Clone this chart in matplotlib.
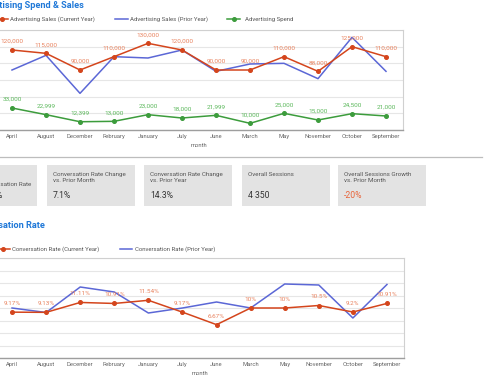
import numpy as np
import matplotlib
matplotlib.use("Agg")
from matplotlib import pyplot as plt
from matplotlib.patches import Rectangle

plt.rcParams['font.family'] = ['Roboto', 'DejaVu Sans']

W, H = 490, 385

months = ["April", "August", "December", "February", "January", "July",
          "June", "March", "May", "November", "October", "September"]

sales_current = [120000, 115000, 90000, 110000, 130000, 120000,
                 90000, 90000, 110000, 88000, 125000, 110000]
sales_prior = [90000, 112000, 55000, 110000, 108000, 120000,
               88000, 99000, 100000, 77000, 139000, 88000]
ad_spend = [33000, 22999, 12399, 13000, 23000, 18000,
            21999, 10000, 25000, 15000, 24500, 21000]

conv_current = [9.17, 9.13, 11.11, 10.91, 11.54, 9.17,
                6.67, 10.0, 10.0, 10.5, 9.2, 10.91]
conv_prior = [10.0, 9.1, 14.2, 13.2, 9.0, 10.0,
              11.2, 10.0, 14.8, 14.6, 8.0, 14.7]

card_labels = ["Conversation Rate",
               "Conversation Rate Change\nvs. Prior Month",
               "Conversation Rate Change\nvs. Prior Year",
               "Overall Sessions",
               "Overall Sessions Growth\nvs. Prior Month"]
card_values = ["9.9%", "7.1%", "14.3%", "4 350", "-20%"]

RED = "#d4451c"
RED_LBL = "#e8825e"
BLUE = "#5b67d6"
GREEN = "#3c9c3c"
GREEN_LBL = "#5cb85c"
TITLE = "#1f78d8"
TICK = "#666666"


def rect(x0, y0, x1, y1):
    return [x0 / W, 1 - y1 / H, (x1 - x0) / W, (y1 - y0) / H]


def style_axes(ax):
    ax.set_xlim(-0.5, len(months) - 0.5)
    ax.set_xticks(range(len(months)), months)
    ax.tick_params(axis="x", length=0, labelsize=4.2, labelcolor=TICK, pad=2.6)
    ax.tick_params(axis="y", length=0, labelleft=False)
    ax.grid(axis="y", color="#e6e6e6", lw=0.8)
    ax.set_axisbelow(True)
    ax.spines["left"].set_visible(False)
    ax.spines["bottom"].set_color("#9e9e9e")
    ax.spines["bottom"].set_linewidth(1.0)
    for s in ("top", "right"):
        ax.spines[s].set_color("#d0d0d0")
        ax.spines[s].set_linewidth(0.8)
    ax.set_xlabel("month", fontsize=4.2, color=TICK, labelpad=3)


def label_points(ax, values, texts, color):
    for i, (v, t) in enumerate(zip(values, texts)):
        ax.annotate(t, (i, v), xytext=(0, 8.5), textcoords="offset pixels",
                    ha="center", va="center", fontsize=4.6, color=color)


fig = plt.figure(figsize=(W / 100, H / 100), dpi=100)

# overlay in pixel coordinates for titles, legends, cards
ov = fig.add_axes([0, 0, 1, 1])
ov.set_xlim(0, W)
ov.set_ylim(H, 0)
ov.axis("off")

# ---- Advertising Spend & Sales ----
ax1 = fig.add_axes(rect(-5, 30, 403, 130))
x = np.arange(len(months))
ax1.plot(x, sales_prior, color=BLUE, lw=1.1, zorder=2)
ax1.plot(x, sales_current, color=RED, lw=1.1, marker="o", ms=2.6, zorder=3)
ax1.plot(x, ad_spend, color=GREEN, lw=1.1, marker="o", ms=2.6, zorder=3)
ax1.set_ylim(0, 150000)
ax1.set_yticks(np.arange(0, 150001, 25000))
style_axes(ax1)
label_points(ax1, sales_current, [f"{v:,}" for v in sales_current], RED_LBL)
label_points(ax1, ad_spend, [f"{v:,}" for v in ad_spend], GREEN_LBL)

ov.text(84, 6, "Advertising Spend & Sales", ha="right", va="center",
        fontsize=6.6, fontweight="bold", color=TITLE)
ov.plot([-5, 8], [19, 19], color=RED, lw=1.1)
ov.plot([2], [19], "o", color=RED, ms=2.6)
ov.text(10, 19, "Advertising Sales (Current Year)", va="center", fontsize=4.3, color="#555555")
ov.plot([115, 128], [19, 19], color=BLUE, lw=1.1)
ov.text(130, 19, "Advertising Sales (Prior Year)", va="center", fontsize=4.3, color="#555555")
ov.plot([227, 240], [19, 19], color=GREEN, lw=1.1)
ov.plot([233.5], [19], "o", color=GREEN, ms=2.6)
ov.text(245, 19, "Advertising Spend", va="center", fontsize=4.3, color="#555555")

ov.plot([0, 482], [157, 157], color="#bdbdbd", lw=0.9)

# ---- score cards ----
card_x = [-51, 47, 144, 242, 338]
for i, (cx, lab, val) in enumerate(zip(card_x, card_labels, card_values)):
    ov.add_patch(Rectangle((cx, 165), 88, 41, facecolor="#e3e3e3", edgecolor="none"))
    if i == 0:
        ov.text(31, 184, lab, ha="right", va="center", fontsize=4.5, color="#555555")
        ov.text(3, 195, val, ha="right", va="center", fontsize=6.2, color="#333333")
        continue
    ov.text(cx + 6, 172, lab, ha="left", va="top", fontsize=4.5, color="#555555",
            linespacing=1.25)
    ov.text(cx + 6, 195, val, ha="left", va="center", fontsize=6.2,
            color="#e8643a" if val.startswith("-") else "#333333")

# ---- Conversation Rate ----
ax2 = fig.add_axes(rect(-5, 258, 404, 358))
ax2.plot(x, conv_prior, color=BLUE, lw=1.1, zorder=2)
ax2.plot(x, conv_current, color=RED, lw=1.1, marker="o", ms=2.6, zorder=3)
ax2.set_ylim(0, 20)
ax2.set_yticks(np.arange(0, 20.01, 2.5))
style_axes(ax2)
label_points(ax2, conv_current,
             [f"{v:.2f}".rstrip("0").rstrip(".") + "%" for v in conv_current], RED_LBL)

ov.text(45, 225, "Conversation Rate", ha="right", va="center",
        fontsize=6.6, fontweight="bold", color=TITLE)
ov.plot([-5, 10], [249, 249], color=RED, lw=1.1)
ov.plot([3], [249], "o", color=RED, ms=2.6)
ov.text(12, 249, "Conversation Rate (Current Year)", va="center", fontsize=4.3, color="#555555")
ov.plot([120, 132], [249, 249], color=BLUE, lw=1.1)
ov.text(135, 249, "Conversation Rate (Prior Year)", va="center", fontsize=4.3, color="#555555")

fig.savefig("out.png", dpi=100)
